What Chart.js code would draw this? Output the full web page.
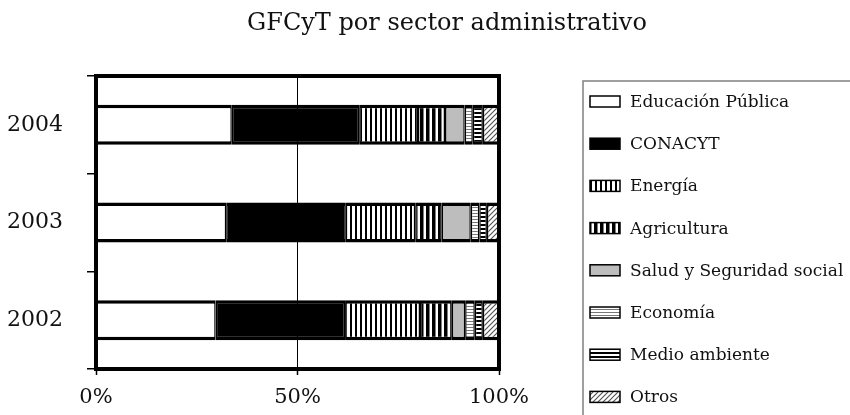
<!DOCTYPE html>
<html>
<head>
<meta charset="utf-8">
<script src="https://cdn.jsdelivr.net/npm/chart.js@4/dist/chart.umd.min.js"></script>
<style>
  html, body { margin: 0; padding: 0; background: #fff; }
  #wrap { width: 850px; height: 415px; }
</style>
</head>
<body>
<div id="wrap"><canvas id="chart" width="850" height="415"></canvas></div>
<script>
// --- data (percent of total per year) ---
const years = ['2004', '2003', '2002'];
const sectors = ['Educación Pública', 'CONACYT', 'Energía', 'Agricultura',
  'Salud y Seguridad social', 'Economía', 'Medio ambiente', 'Otros'];
const educacion   = [33.7, 32.3, 29.7];
const conacyt     = [31.6, 29.7, 32.1];
const energia     = [14.6, 17.2, 18.6];
const agricultura = [6.7, 6.6, 7.9];
const salud       = [4.9, 7.2, 3.3];
const economia    = [2.0, 2.1, 2.4];
const medio       = [2.5, 1.9, 2.0];
const otros       = [4.0, 3.0, 4.0];
const xTicks = [0, 50, 100];
const titleText = 'GFCyT por sector administrativo';

const FONT = '"DejaVu Serif", serif';
const INK = '#111';

// small helper to build fill patterns
function makePattern(w, h, paint) {
  const c = document.createElement('canvas');
  c.width = w; c.height = h;
  const g = c.getContext('2d');
  g.fillStyle = '#fff';
  g.fillRect(0, 0, w, h);
  paint(g);
  return document.getElementById('chart').getContext('2d').createPattern(c, 'repeat');
}

const fills = [
  '#ffffff',
  '#000000',
  makePattern(5, 5, g => { g.fillStyle = '#000'; g.fillRect(0, 0, 2, 5); }),
  makePattern(6, 6, g => { g.fillStyle = '#000'; g.fillRect(0, 0, 3.5, 6); }),
  '#bdbdbd',
  makePattern(4, 3, g => { g.fillStyle = '#777'; g.fillRect(0, 0, 4, 1); }),
  makePattern(4, 4, g => { g.fillStyle = '#000'; g.fillRect(0, 0, 4, 2); }),
  makePattern(5, 5, g => {
    g.strokeStyle = '#555'; g.lineWidth = 1.2;
    g.beginPath();
    g.moveTo(-1, 6); g.lineTo(6, -1);
    g.moveTo(-1, 1); g.lineTo(1, -1);
    g.moveTo(4, 6); g.lineTo(6, 4);
    g.stroke();
  })
];

const series = [educacion, conacyt, energia, agricultura, salud, economia, medio, otros];

const datasets = series.map((vals, i) => ({
  label: sectors[i],
  data: vals,
  backgroundColor: fills[i],
  borderColor: '#000',
  borderWidth: { top: 3.5, bottom: 3.5, left: 1.5, right: 1.5 },
  borderSkipped: false,
  barPercentage: 0.41,
  categoryPercentage: 1
}));

// frame, title and boxed legend drawn by hand
const decor = {
  id: 'decor',
  afterDatasetsDraw(chart) {
    const { ctx, chartArea: a } = chart;
    ctx.save();
    ctx.strokeStyle = '#000';
    ctx.lineWidth = 4;
    ctx.strokeRect(a.left, a.top, a.right - a.left, a.bottom - a.top);
    ctx.restore();
  },
  afterDraw(chart) {
    const ctx = chart.ctx;
    ctx.save();
    ctx.fillStyle = INK;
    ctx.font = '24px ' + FONT;
    ctx.textAlign = 'center';
    ctx.textBaseline = 'middle';
    ctx.fillText(titleText, 447, 24);

    // legend box (runs off the right and bottom edges like the original)
    ctx.strokeStyle = '#808080';
    ctx.lineWidth = 1.5;
    ctx.strokeRect(583, 81, 400, 400);

    ctx.font = '17px ' + FONT;
    ctx.textAlign = 'left';
    chart.data.datasets.forEach((ds, i) => {
      const cy = 101.5 + i * 42.2;
      ctx.fillStyle = ds.backgroundColor;
      ctx.fillRect(590, cy - 5.5, 30, 11);
      ctx.strokeStyle = '#000';
      ctx.lineWidth = 1.5;
      ctx.strokeRect(590, cy - 5.5, 30, 11);
      ctx.fillStyle = INK;
      ctx.fillText(ds.label, 630, cy + 1);
    });
    ctx.restore();
  }
};

new Chart(document.getElementById('chart'), {
  type: 'bar',
  data: { labels: years, datasets: datasets },
  options: {
    indexAxis: 'y',
    responsive: false,
    animation: false,
    layout: { padding: { top: 76, right: 351, left: 0, bottom: 0 } },
    plugins: {
      legend: { display: false },
      title: { display: false },
      tooltip: { enabled: false }
    },
    scales: {
      x: {
        stacked: true,
        min: 0,
        max: 100,
        afterBuildTicks: axis => { axis.ticks = xTicks.map(v => ({ value: v })); },
        afterFit: axis => { axis.height = 46; },
        ticks: {
          color: INK,
          font: { family: FONT, size: 21 },
          padding: 10,
          callback: v => v + '%'
        },
        grid: { color: '#000', lineWidth: 1, tickLength: 6, tickWidth: 1.5 },
        border: { display: false }
      },
      y: {
        stacked: true,
        afterFit: axis => { axis.width = 96; },
        ticks: {
          color: INK,
          font: { family: FONT, size: 22 },
          padding: 24
        },
        grid: { drawOnChartArea: false, color: '#000', tickLength: 9, lineWidth: 1.5, offset: true },
        border: { display: false }
      }
    }
  },
  plugins: [decor]
});
</script>
</body>
</html>
